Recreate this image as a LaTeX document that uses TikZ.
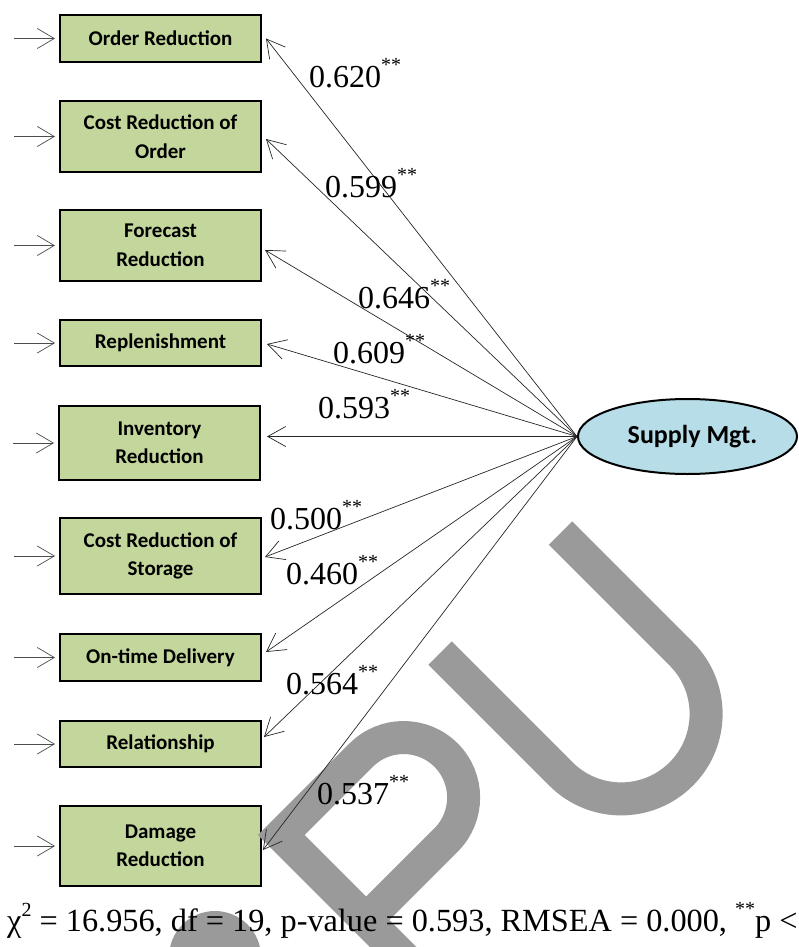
\documentclass[tikz,border=0pt]{standalone}
\usepackage{fontspec}
\setmainfont{Liberation Serif}
\newfontfamily\calfont{Carlito}
\usetikzlibrary{arrows.meta,shapes.geometric}

\definecolor{boxgreen}{RGB}{195,214,155}
\definecolor{latentblue}{RGB}{183,221,232}
\definecolor{wmgray}{RGB}{154,154,154}

% significance stars as a raised small superscript
\newcommand{\sigstars}{\raisebox{16pt}{\fontsize{20}{20}\selectfont **}}

\tikzset{
  indicator/.style={draw=black, line width=2pt, fill=boxgreen,
    minimum width=201pt, inner sep=0pt, align=center,
    font=\calfont\bfseries\fontsize{21}{28.5}\selectfont},
  latent/.style={ellipse, draw=black, line width=2pt, fill=latentblue,
    minimum width=219pt, minimum height=75pt, inner sep=0pt,
    font=\calfont\bfseries\fontsize{26}{30}\selectfont},
  loading/.style={draw=black!85, line width=0.7pt,
    -{Straight Barb[length=18pt,width=20pt]}},
  errarrow/.style={draw=black!70, line width=0.7pt,
    -{Straight Barb[length=17pt,width=20pt]}},
  coef/.style={anchor=base west, inner sep=0pt,
    font=\fontsize{32}{32}\selectfont},
  wm/.style={draw=wmgray, line width=33pt, line join=miter, line cap=butt},
}

\begin{document}
\begin{tikzpicture}[x=1pt,y=-1pt]
\useasboundingbox (0,0) rectangle (798,947);

% observed indicators
\node[indicator, minimum height=47pt] (b1) at (160.5,38.5)  {Order Reduction};
\node[indicator, minimum height=71pt] (b2) at (160.5,136.5) {Cost Reduction of\\Order};
\node[indicator, minimum height=71pt] (b3) at (160.5,245.5) {Forecast\\Reduction};
\node[indicator, minimum height=46pt] (b4) at (160.5,343)   {Replenishment};
\node[indicator, minimum height=74pt] (b5) at (159.5,443)   {Inventory\\Reduction};
\node[indicator, minimum height=76pt] (b6) at (160.5,556)   {Cost Reduction of\\Storage};
\node[indicator, minimum height=47pt] (b7) at (160.5,657.5) {On-time Delivery};
\node[indicator, minimum height=46pt] (b8) at (160.5,744)   {Relationship};
\node[indicator, minimum height=80pt] (b9) at (160.5,846)   {Damage\\Reduction};

% latent factor
\node[latent] (sm) at (687.5,436.5) {\hspace*{10pt}Supply Mgt.};

% stamp letters
\fill[wmgray] (215,957) circle[radius=46];
\draw[wm] (500,1054) -- (281.3,835) -- (361.2,755.1)
  arc[start angle=-135, end angle=45, radius=60] -- (366.1,919.9);
\draw[wm] (440,653) -- (561,774)
  arc[start angle=135, end angle=-45, radius=85] -- (560.5,533);

% error terms
\foreach \b in {b1,b2,b3,b4,b5,b6,b7,b8,b9}
  \draw[errarrow] ([xshift=-45pt]\b.west) -- ([xshift=-4pt]\b.west);

% factor loadings
\draw[loading] (sm.west) -- ([shift={(4,0)}]b1.east);
\draw[loading] (sm.west) -- ([shift={(4,2.5)}]b2.east);
\draw[loading] (sm.west) -- ([shift={(3,4.5)}]b3.east);
\draw[loading] (sm.west) -- ([shift={(5,1)}]b4.east);
\draw[loading] (sm.west) -- ([shift={(6,-6.5)}]b5.east);
\draw[loading] (sm.west) -- ([shift={(3,1)}]b6.east);
\draw[loading] (sm.west) -- ([shift={(4,-5.5)}]b7.east);
\draw[loading] (sm.west) -- ([shift={(2,-7)}]b8.east);
\draw[loading] (sm.west) -- ([shift={(1,4)}]b9.east);

% standardized coefficients
\node[coef] (l1) at (309,88)  {0.620\sigstars};
\node[coef] (l2) at (325,197) {0.599\sigstars};
\node[coef] (l3) at (358,308) {0.646\sigstars};
\node[coef] (l4) at (333,363) {0.609\sigstars};
\node[coef] (l5) at (318,418) {0.593\sigstars};
\node[coef] (l6) at (270,529) {0.500\sigstars};
\node[coef] (l7) at (286,584) {0.460\sigstars};
\node[coef] (l8) at (286,694) {0.564\sigstars};
\node[coef] (l9) at (317,804) {0.537\sigstars};

% model fit
\node[coef, font=\fontsize{32.3}{33}\selectfont] (fit) at (7,931)
  {χ\raisebox{15pt}{\fontsize{20}{20}\selectfont 2} = 16.956, df = 19, p-value = 0.593, RMSEA = 0.000, \sigstars p <};
\end{tikzpicture}
\end{document}
